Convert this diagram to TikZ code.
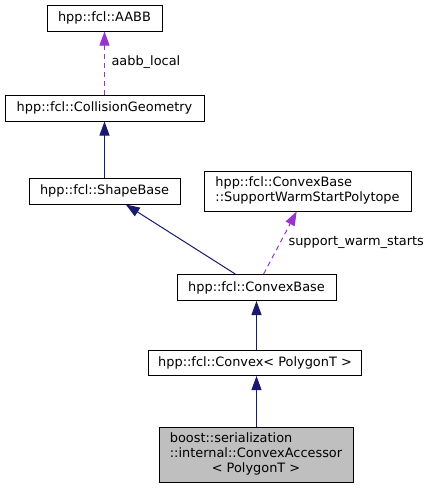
\documentclass[tikz,border=0pt]{standalone}
\usepackage{fontspec}
\setmainfont{DejaVu Sans}
\usepackage{xcolor}
\usepackage{tikz}
\usetikzlibrary{arrows.meta}
\definecolor{edgeblue}{HTML}{191970}
\definecolor{edgepurple}{HTML}{9A32CD}

\begin{document}
\begin{tikzpicture}[x=1pt, y=-1pt,
        font=\fontsize{12.9}{15}\selectfont,
        cls/.style={draw, line width=1pt, inner sep=0pt, minimum height=26pt},
        inherit/.style={edgeblue, line width=1pt, -{Triangle[length=14pt,width=10pt]}},
        usage/.style={edgepurple, line width=1pt, dash pattern=on 5pt off 4pt, -{Triangle[length=14pt,width=10pt]}}]
        \useasboundingbox (0,0) rectangle (430,488);

        % Top of the hierarchy
        \node[cls, minimum width=115pt] (aabb) at (104.5,18) {hpp::fcl::AABB};
        \node[cls, minimum width=199pt] (collgeom) at (104.5,108) {hpp::fcl::CollisionGeometry};
        \node[cls, minimum width=151pt] (shapebase) at (104.5,191) {hpp::fcl::ShapeBase};

        % Warm start member
        \node[cls, minimum width=207pt, minimum height=40pt] (warmstart) at (307.5,191)
            {\begin{tabular}{@{}l@{}}hpp::fcl::ConvexBase\\::SupportWarmStartPolytope\end{tabular}};

        % Convex classes
        \node[cls, minimum width=159pt] (convexbase) at (256.5,287.5) {hpp::fcl::ConvexBase};
        \node[cls, minimum width=213pt, minimum height=25pt] (convex) at (255,363) {hpp::fcl::Convex< PolygonT >};
        \node[cls, fill=black!25, minimum width=194pt, minimum height=55pt] (accessor) at (256,454.5)
            {\begin{tabular}{@{}l@{}}boost::serialization\\::internal::ConvexAccessor\\\multicolumn{1}{@{}c@{}}{< PolygonT >}\end{tabular}};

        % Inheritance
        \draw[inherit] (shapebase) -- (collgeom);
        \draw[inherit] (convexbase) -- (shapebase);
        \draw[inherit] (convex.north -| convexbase.south) -- (convexbase.south);
        \draw[inherit] (accessor.north -| convexbase.south) -- (convex.south -| convexbase.south);

        % Members
        \draw[usage] (collgeom) -- (aabb);
        \node[anchor=west] (aabblabel) at (108,62) {aabb\_local};
        \draw[usage] (convexbase) -- (warmstart);
        \node[anchor=west] (warmlabel) at (285,242) {support\_warm\_starts};
    \end{tikzpicture}
\end{document}
